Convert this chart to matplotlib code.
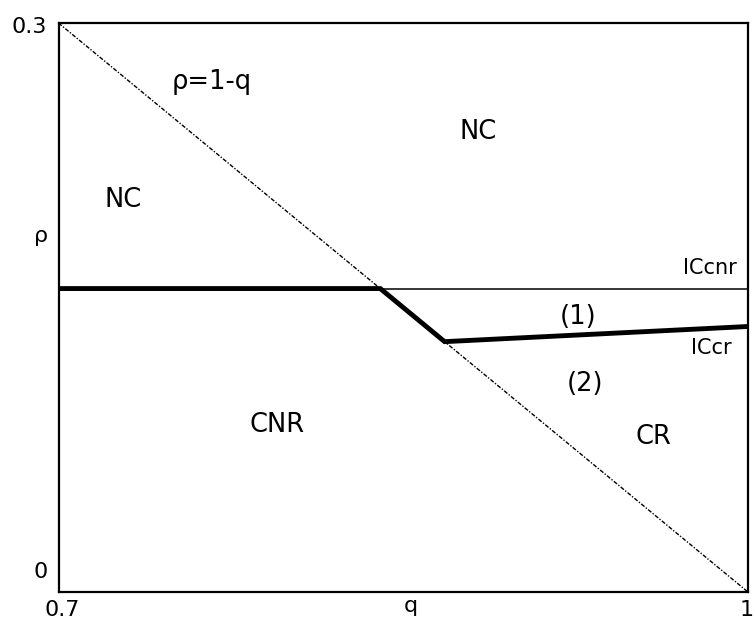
import matplotlib.pyplot as plt

# boundary rho = 1 - q
diag_q = [0.7, 1.0]
diag_rho = [0.3, 0.0]

# ICcnr (thin horizontal)
iccnr_q = [0.7, 1.0]
iccnr_rho = [0.16, 0.16]

# thick boundary
thick_q = [0.7, 0.84, 0.868, 1.0]
thick_rho = [0.16, 0.16, 0.132, 0.14]

region_labels = ['NC', 'NC', 'CNR', 'CR', '(1)', '(2)']
region_q = [0.8825, 0.728, 0.795, 0.959, 0.926, 0.929]
region_rho = [0.2425, 0.2066, 0.088, 0.0817, 0.145, 0.1096]

fig = plt.figure(figsize=(7.55, 6.19), dpi=100)
ax = fig.add_axes([0.0775, 0.0436, 0.9132, 0.9192])
ax.set_xlim(0.7, 1.0)
ax.set_ylim(0.0, 0.3)
ax.set_xticks([])
ax.set_yticks([])
for s in ax.spines.values():
    s.set_linewidth(1.6)

ax.plot(diag_q, diag_rho, color='black', lw=1.0, ls=(0, (3, 1.2, 1, 1.2)))
ax.plot(iccnr_q, iccnr_rho, color='black', lw=1.1)
ax.plot(thick_q, thick_rho, color='black', lw=3.5, solid_joinstyle='miter')

fs = 18.5
for lab, q, r in zip(region_labels, region_q, region_rho):
    ax.text(q, r, lab, fontsize=fs, ha='center', va='center')

ax.text(0.7668, 0.269, 'ρ=1-q', fontsize=fs, ha='center', va='center')
ax.text(0.9953, 0.1708, 'ICcnr', fontsize=15, ha='right', va='center')
ax.text(0.984, 0.1286, 'ICcr', fontsize=15, ha='center', va='center')

# axis annotations
tfs = 16
ax.text(0.6951, 0.2978, '0.3', fontsize=tfs, ha='right', va='center', clip_on=False)
ax.text(0.6953, 0.0105, '0', fontsize=tfs, ha='right', va='center', clip_on=False)
ax.text(0.6953, 0.1875, 'ρ', fontsize=tfs, ha='right', va='center', clip_on=False)
ax.text(0.7015, -0.0095, '0.7', fontsize=tfs, ha='center', va='center', clip_on=False)
ax.text(0.8533, -0.0075, 'q', fontsize=tfs, ha='center', va='center', clip_on=False)
ax.text(0.9995, -0.0095, '1', fontsize=tfs, ha='center', va='center', clip_on=False)

fig.savefig('out.png', dpi=100)
